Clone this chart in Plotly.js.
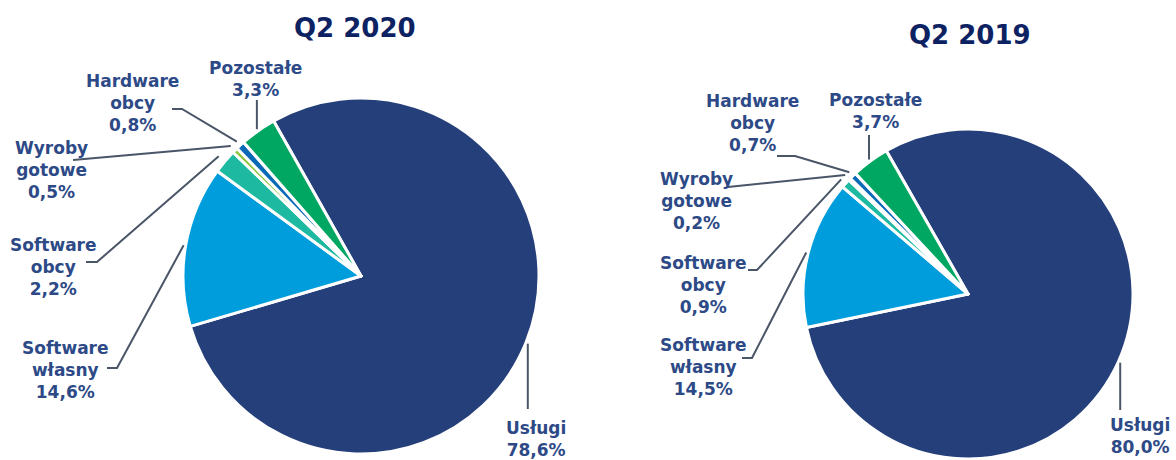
<!DOCTYPE html>
<html>
<head>
<meta charset="utf-8">
<script src="https://cdn.plot.ly/plotly-3.0.1.min.js"></script>
<style>
  html, body { margin: 0; padding: 0; background: #ffffff; }
  #chart { width: 1176px; height: 460px; }
</style>
</head>
<body>
<div id="chart"></div>
<script>
// ---- DATA ----
const categories = ['Usługi', 'Software własny', 'Software obcy', 'Wyroby gotowe', 'Hardware obcy', 'Pozostałe'];
const values2020 = [78.6, 14.6, 2.2, 0.5, 0.8, 3.3];
const values2019 = [80.0, 14.5, 0.9, 0.2, 0.7, 3.7];
const chartTitles = ['Q2 2020', 'Q2 2019'];

// ---- STYLE / LAYOUT ----
const W = 1176, H = 460;
const sliceColors = ['#243f7a', '#009ddc', '#1db9a0', '#8cc63f', '#0a6ab5', '#00a762'];
const labelColor = '#2d4a87';
const titleColor = '#0d2262';
const lineColor = '#4a5568';

// pie geometry in pixels
const pies = [
  { cx: 361, cy: 276, r: 178, rotation: -29.4, title: { x: 355, y: 28 } },
  { cx: 968, cy: 294, r: 165, rotation: -29.7, title: { x: 970, y: 35 } }
];

// label centre + leader-line path (after the start point on the slice edge);
// a null x means "same x as the start point"
const labelLayout = [
  [ // Q2 2020
    { lx: 536, ly: 439, pts: [[null, 409]], off: 0 },
    { lx: 65,  ly: 370, pts: [[117, 368], [107, 368]], off: 0 },
    { lx: 53,  ly: 267, pts: [[97, 262], [86, 262]], off: 6 },
    { lx: 51,  ly: 170, pts: [[73, 160]], off: 4 },
    { lx: 132, ly: 103, pts: [[182, 109], [172, 109]], off: 3 },
    { lx: 255, ly: 79,  pts: [[null, 100]], off: 0 }
  ],
  [ // Q2 2019
    { lx: 1140, ly: 436, pts: [[null, 410]], off: 0 },
    { lx: 703, ly: 367, pts: [[752, 358], [742, 358]], off: 0 },
    { lx: 703, ly: 285, pts: [[757, 270], [748, 270]], off: 4 },
    { lx: 696, ly: 201, pts: [[728, 187]], off: 4 },
    { lx: 752, ly: 123, pts: [[795, 156], [777, 156]], off: 3 },
    { lx: 875, ly: 111, pts: [[null, 135]], off: 0 }
  ]
];

const px = x => x / W;
const py = y => 1 - y / H;
const fmt = v => v.toFixed(1).replace('.', ',') + '%';

const series = [values2020, values2019];
const traces = [];
const annotations = [];
const shapes = [];

series.forEach((vals, k) => {
  const g = pies[k];
  traces.push({
    type: 'pie',
    labels: categories,
    values: vals,
    sort: false,
    direction: 'clockwise',
    rotation: g.rotation,
    textinfo: 'none',
    hoverinfo: 'label+percent',
    showlegend: false,
    marker: { colors: sliceColors, line: { color: '#ffffff', width: 3 } },
    domain: {
      x: [px(g.cx - g.r), px(g.cx + g.r)],
      y: [py(g.cy + g.r), py(g.cy - g.r)]
    }
  });

  annotations.push({
    xref: 'paper', yref: 'paper', x: px(g.title.x), y: py(g.title.y),
    xanchor: 'center', yanchor: 'middle', showarrow: false,
    text: chartTitles[k],
    font: { family: 'DejaVu Sans, Verdana, sans-serif', size: 26, color: titleColor, weight: 700 }
  });

  const total = vals.reduce((a, b) => a + b, 0);
  let acc = 0;
  vals.forEach((v, i) => {
    const midDeg = g.rotation + (acc + v / 2) / total * 360;
    acc += v;
    const a = midDeg * Math.PI / 180;
    const L = labelLayout[k][i];
    const rr = g.r + 2 + L.off;
    const sx = g.cx + rr * Math.sin(a);
    const sy = g.cy - rr * Math.cos(a);
    let d = 'M ' + px(sx) + ',' + py(sy);
    L.pts.forEach(p => {
      const x = p[0] === null ? sx : p[0];
      d += ' L ' + px(x) + ',' + py(p[1]);
    });
    shapes.push({
      type: 'path', xref: 'paper', yref: 'paper', path: d,
      line: { color: lineColor, width: 2 }
    });
    annotations.push({
      xref: 'paper', yref: 'paper', x: px(L.lx), y: py(L.ly),
      xanchor: 'center', yanchor: 'middle', showarrow: false, align: 'center',
      text: categories[i].replace(' ', '<br>') + '<br>' + fmt(v),
      font: { family: 'DejaVu Sans, Verdana, sans-serif', size: 17, color: labelColor, weight: 700 }
    });
  });
});

Plotly.newPlot('chart', traces, {
  width: W, height: H,
  margin: { l: 0, r: 0, t: 0, b: 0 },
  paper_bgcolor: '#ffffff',
  plot_bgcolor: '#ffffff',
  annotations: annotations,
  shapes: shapes
}, { staticPlot: true, displayModeBar: false });
</script>
</body>
</html>
